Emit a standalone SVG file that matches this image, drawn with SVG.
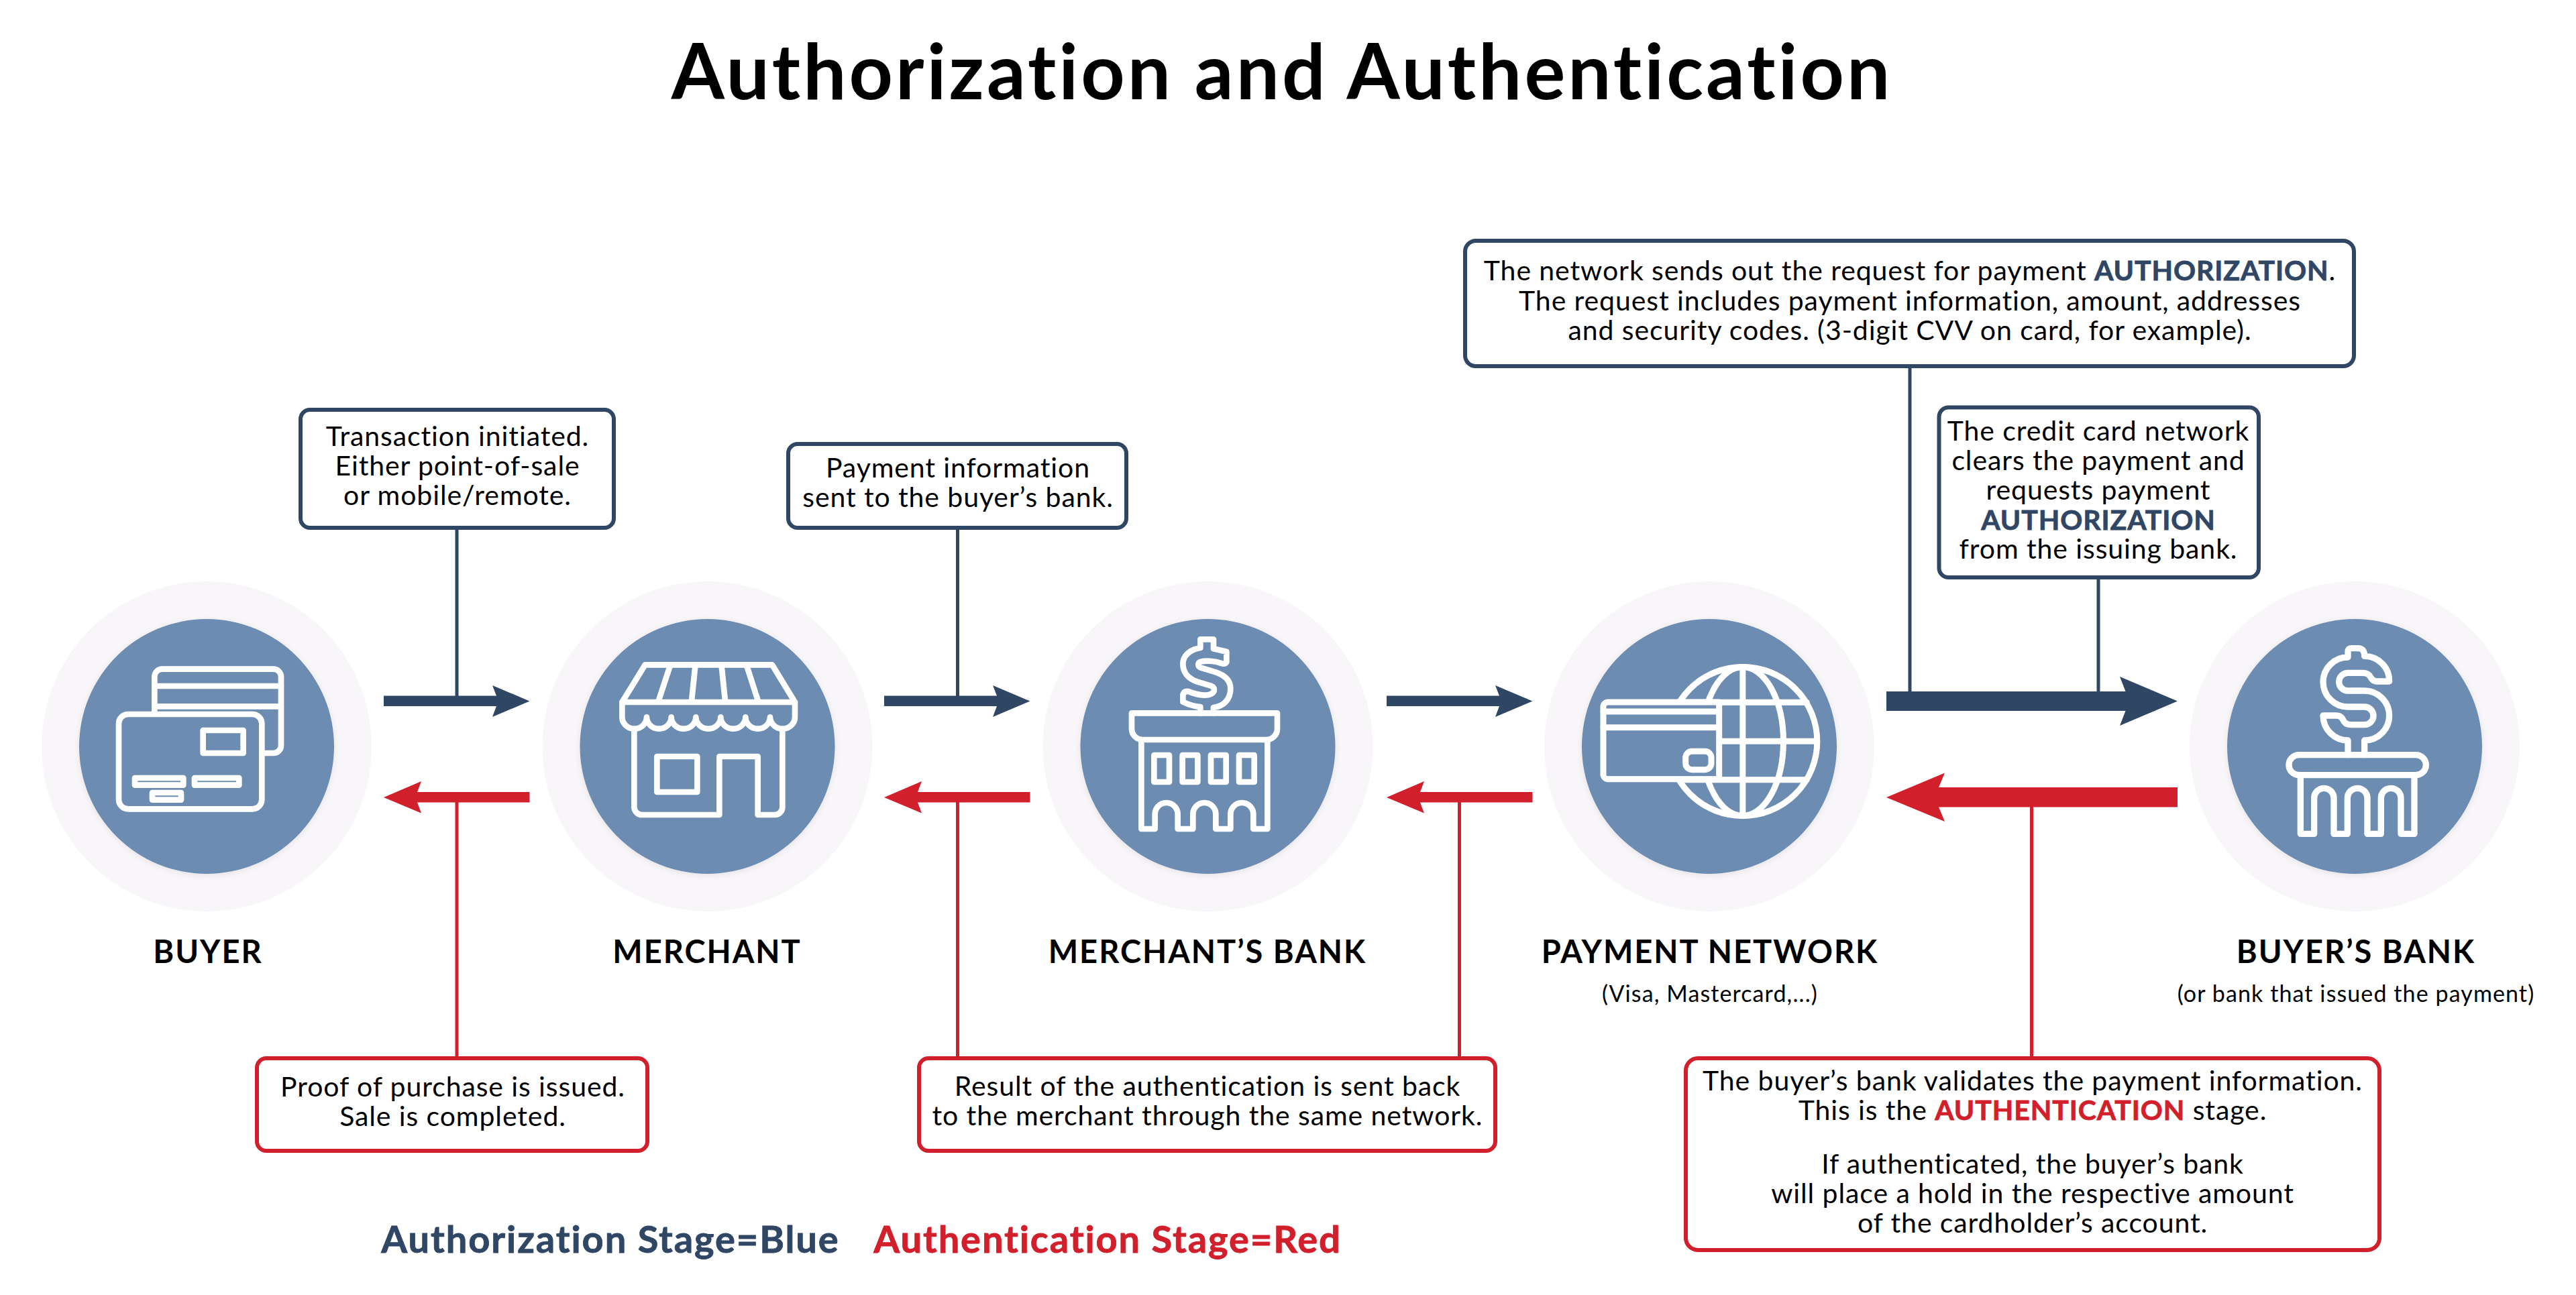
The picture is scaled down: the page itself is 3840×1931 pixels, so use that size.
<svg xmlns="http://www.w3.org/2000/svg" width="3840" height="1931" viewBox="0 0 3840 1931">
<style>
text{font-family:"Lato","Noto Sans","Liberation Sans",sans-serif;fill:#000;text-anchor:middle;font-variant-ligatures:none}
.t{font-size:41px;letter-spacing:.9px}
.n{font-size:47px;font-weight:700;letter-spacing:2px}
.s{font-size:34px;letter-spacing:1.100px}
.b{font-weight:700;fill:#304665;stroke:#304665;stroke-width:.8px}
.r{font-weight:700;fill:#d11f2b;stroke:#d11f2b;stroke-width:.8px}
.l{font-size:56px;letter-spacing:1.900px}
.bb{fill:#fff;stroke:#304665;stroke-width:6}
.rb{fill:#fff;stroke:#d11f2b;stroke-width:6}
.o{fill:#f8f6f9}
.i{fill:#6c8cb1;filter:url(#sh)}
.ic{fill:none;stroke:#fff;stroke-width:26;stroke-linejoin:round;stroke-linecap:round}
.bl{fill:#304665}
.rl{fill:#d11f2b}
.vb{stroke:#304665;stroke-width:5;fill:none}
.vr{stroke:#d11f2b;stroke-width:5;fill:none}
</style>
<defs>
<filter id="sh" x="-10%" y="-10%" width="120%" height="120%"><feDropShadow dx="0" dy="2" stdDeviation="5" flood-color="#000" flood-opacity=".08"/></filter>
</defs>
<rect width="3840" height="1931" fill="#fff"/>
<text x="1911" y="148" font-size="114" font-weight="700" letter-spacing="4">Authorization and Authentication</text>

<g id="connectors">
<path class="vb" d="M681 790V1040M1427.5 790V1040M2847 549V1034M3128 864V1034"/>
<path class="vr" d="M681 1194V1575M1427.5 1194V1575M2175.5 1194V1575M3028.5 1201V1575"/>
<path class="bl" d="M572 1037.5H740L734 1022L789.5 1045.5L734 1069L740 1053H572Z"/>
<path class="bl" d="M1318 1037.5H1486L1480 1022L1535.5 1045.5L1480 1069L1486 1053H1318Z"/>
<path class="bl" d="M2067 1037.5H2235L2229 1022L2284.5 1045.5L2229 1069L2235 1053H2067Z"/>
<path class="bl" d="M2812 1031H3168.5L3160 1009L3246 1045.5L3160 1082L3168.5 1060H2812Z"/>
<path class="rl" d="M789.5 1181H622L628 1165L572 1189L628 1212.5L622 1196.5H789.5Z"/>
<path class="rl" d="M1535.5 1181H1368L1374 1165L1318 1189L1374 1212.5L1368 1196.5H1535.5Z"/>
<path class="rl" d="M2284.5 1181H2117L2123 1165L2067 1189L2123 1212.5L2117 1196.5H2284.5Z"/>
<path class="rl" d="M3246 1174H2890L2899 1152.5L2812 1189L2899 1225L2890 1203.5H3246Z"/>
</g>

<g id="buyer">
<circle class="o" cx="308" cy="1113" r="246"/><circle class="i" cx="308" cy="1113" r="190"/>
<g transform="translate(120 930) scale(.33333)" class="ic">
<path d="M331 392V237A34 34 0 0 1 365 203H863A34 34 0 0 1 897 237V545A34 34 0 0 1 863 579H812"/>
<path d="M331 279H897M331 370H897"/>
<rect x="171" y="405" width="640" height="424" rx="42"/>
<rect x="548" y="477" width="180" height="102"/>
<rect x="243" y="690" width="217" height="32"/><rect x="510" y="690" width="199" height="32"/><rect x="321" y="756" width="129" height="32"/>
</g>
<text class="n" x="310" y="1436">BUYER</text>
</g>

<g id="merchant">
<circle class="o" cx="1054.5" cy="1113" r="246"/><circle class="i" cx="1054.5" cy="1113" r="190"/>
<g transform="translate(865 930) scale(.33333)" class="ic">
<path d="M187 351L290 184H858L960 351Z"/>
<path d="M401 190L350 345M514 190L498 345M632 190L648 345M745 190L795 345"/>
<path d="M187 351V418A55 52 0 0 0 297 418A55 52 0 0 0 407 418A55 52 0 0 0 517 418A55.5 52 0 0 0 628 418A55.5 52 0 0 0 739 418A55 52 0 0 0 849 418A55.5 52 0 0 0 960 418V351"/>
<path d="M241 478V820A35 35 0 0 0 276 855H622V594H794V855H870A34 34 0 0 0 904 821V478"/>
<rect x="343" y="594" width="180" height="159"/>
</g>
<text class="n" x="1054" y="1436">MERCHANT</text>
</g>

<g id="merchants-bank">
<circle class="o" cx="1800.5" cy="1113" r="246"/><circle class="i" cx="1800.5" cy="1113" r="190"/>
<g transform="translate(1610 930) scale(.33333)" class="ic">
<path d="M538 400V372C510 370 480 360 460 350V318Q465 300 485 303C520 318 560 325 585 315C605 305 605 285 585 278L525 260C480 245 460 215 460 180C460 145 490 115 538 108V70H597V112L655 125V172Q650 182 635 178C600 165 560 165 540 170C525 175 525 190 540 197L590 212C640 225 673 250 673 290C673 340 640 370 597 375V400"/>
<path d="M231 400H882V470A49 49 0 0 1 833 519H280A49 49 0 0 1 231 470Z"/>
<path d="M274 519V918H335V852A51 51 0 0 1 437 852V918H505V852A51 51 0 0 1 607 852V918H673V852A51 51 0 0 1 775 852V918H838V519"/>
<rect x="331" y="588" width="68" height="120"/><rect x="458" y="588" width="68" height="120"/><rect x="585" y="588" width="68" height="120"/><rect x="711" y="588" width="68" height="120"/>
</g>
<text class="n" x="1800" y="1436">MERCHANT’S BANK</text>
</g>

<g id="payment-network">
<circle class="o" cx="2548" cy="1113" r="246"/><circle class="i" cx="2548" cy="1113" r="190"/>
<g transform="translate(2360 930) scale(.33333)" class="ic" style="stroke-width:27">
<circle cx="713.5" cy="526.5" r="333"/>
<ellipse cx="713.5" cy="526.5" rx="182" ry="333"/>
<path d="M713.5 194V860M440 352H1000M608 526H1046M440 698H1000"/>
<path d="M90 372A21 21 0 0 1 111 351H608V695H111A21 21 0 0 1 90 674Z" style="fill:#6c8cb1"/>
<path d="M90 393H608M90 464H608"/>
<rect x="458" y="571" width="115" height="82" rx="28"/>
</g>
<text class="n" x="2549" y="1436">PAYMENT NETWORK</text>
<text class="s" x="2549" y="1494">(Visa, Mastercard,...)</text>
</g>

<g id="buyers-bank">
<circle class="o" cx="3510" cy="1113" r="246"/><circle class="i" cx="3510" cy="1113" r="190"/>
<g transform="translate(3320 930) scale(.33333)" class="ic" style="stroke-width:28">
<path d="M540 587V522A111 111 0 0 1 429 411H490Q510 412 518 430Q527 452 552 452H614A40 40 0 0 0 614 372H540A111 111 0 0 1 540 150V125Q540 110 555 110H585Q614 110 614 145A111 111 0 0 1 725 258H665Q650 256 642 240Q632 220 605 220H540A40 40 0 0 0 540 300H614A111 111 0 0 1 614 522V587"/>
<rect x="276" y="587" width="613" height="90" rx="45"/>
<path d="M328 677V940H389V780A44 44 0 0 1 477 780V940H538V780A44.500 44 0 0 1 627 780V940H688V780A44.500 44 0 0 1 777 780V940H837V677"/>
</g>
<text class="n" x="3512" y="1436">BUYER’S BANK</text>
<text class="s" x="3512" y="1494">(or bank that issued the payment)</text>
</g>

<g id="box-transaction">
<rect class="bb" x="448" y="611" width="467" height="176" rx="14"/>
<text class="t" x="682" y="665">Transaction initiated.</text><text class="t" x="682" y="709">Either point-of-sale</text><text class="t" x="682" y="753">or mobile/remote.</text>
</g>
<g id="box-payment-info">
<rect class="bb" x="1175" y="662" width="504" height="125" rx="14"/>
<text class="t" x="1428" y="712">Payment information</text><text class="t" x="1428" y="756">sent to the buyer’s bank.</text>
</g>
<g id="box-network">
<rect class="bb" x="2184" y="359" width="1325" height="187" rx="16"/>
<text class="t" x="2847" y="418">The network sends out the request for payment <tspan class="b">AUTHORIZATION</tspan>.</text>
<text class="t" x="2847" y="463">The request includes payment information, amount, addresses</text>
<text class="t" x="2847" y="507">and security codes. (3-digit CVV on card, for example).</text>
</g>
<g id="box-clearing">
<rect class="bb" x="2890.500" y="607.500" width="476.500" height="253.500" rx="14"/>
<text class="t" x="3128" y="657">The credit card network</text>
<text class="t" x="3128" y="701">clears the payment and</text>
<text class="t" x="3128" y="745">requests payment</text>
<text class="t b" x="3128" y="790">AUTHORIZATION</text>
<text class="t" x="3128" y="833">from the issuing bank.</text>
</g>
<g id="box-proof">
<rect class="rb" x="383" y="1578" width="582" height="138" rx="14"/>
<text class="t" x="675" y="1635">Proof of purchase is issued.</text><text class="t" x="675" y="1679">Sale is completed.</text>
</g>
<g id="box-result">
<rect class="rb" x="1370" y="1578" width="859" height="138" rx="14"/>
<text class="t" x="1800" y="1634">Result of the authentication is sent back</text><text class="t" x="1800" y="1678">to the merchant through the same network.</text>
</g>
<g id="box-validate">
<rect class="rb" x="2513" y="1578" width="1034" height="286" rx="18"/>
<text class="t" x="3030" y="1626">The buyer’s bank validates the payment information.</text>
<text class="t" x="3030" y="1670">This is the <tspan class="r">AUTHENTICATION</tspan> stage.</text>
<text class="t" x="3030" y="1750">If authenticated, the buyer’s bank</text>
<text class="t" x="3030" y="1794">will place a hold in the respective amount</text>
<text class="t" x="3030" y="1838">of the cardholder’s account.</text>
</g>
<g id="legend">
<text class="b l" x="910" y="1868">Authorization Stage=Blue</text>
<text class="r l" x="1651" y="1868">Authentication Stage=Red</text>
</g>
</svg>
